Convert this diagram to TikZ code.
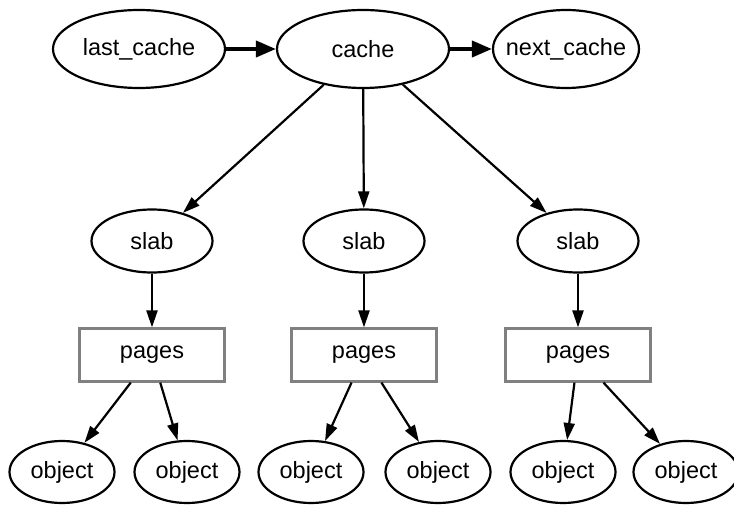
\documentclass[tikz,border=0pt]{standalone}
\usepackage{fontspec}
\setmainfont{Liberation Sans}
\usetikzlibrary{shapes.geometric,arrows.meta}
\tikzset{
  x=1pt,y=-1pt,
  every node/.style={font=\fontsize{23.5}{27}\selectfont, inner sep=0pt},
  ell/.style={draw, ellipse, line width=2.2pt},
  top/.style={ell, minimum width=172pt, minimum height=78pt},
  nextn/.style={ell, minimum width=146pt, minimum height=78pt},
  slabn/.style={ell, minimum width=121pt, minimum height=63pt},
  obj/.style={ell, minimum width=105pt, minimum height=62pt},
  pagebox/.style={draw=black!50, line width=2.2pt, rectangle, minimum width=145pt, minimum height=53pt},
  arr/.style={line width=2.2pt, -{Triangle[length=17pt,width=11pt]}},
  thickarr/.style={line width=4pt, -{Triangle[length=20pt,width=16pt]}}
}
\begin{document}
\begin{tikzpicture}
\useasboundingbox (0,0) rectangle (734,505);
\node[top] (last) at (139,49) {\makebox[0pt]{last\_cache}};
\node[top] (cache) at (363,49) {\makebox[0pt]{cache}};
\node[nextn] (next) at (566,49) {\makebox[0pt]{next\_cache}};
\node[slabn] (s1) at (152,241) {slab};
\node[slabn] (s2) at (364,241) {slab};
\node[slabn] (s3) at (578,241) {slab};
\node[pagebox] (p1) at (152,355) {pages};
\node[pagebox] (p2) at (364,355) {pages};
\node[pagebox] (p3) at (578,355) {pages};
\node[obj] (o1) at (62,472) {object};
\node[obj] (o2) at (187,472) {object};
\node[obj] (o3) at (311,472) {object};
\node[obj] (o4) at (438,472) {object};
\node[obj] (o5) at (563,472) {object};
\node[obj] (o6) at (686,472) {object};
\draw[thickarr] (last) -- (cache);
\draw[thickarr] (cache) -- (next);
\draw[arr] (cache) -- (s1);
\draw[arr] (cache) -- (s2);
\draw[arr] (cache) -- (s3);
\draw[arr] (s1) -- (p1);
\draw[arr] (s2) -- (p2);
\draw[arr] (s3) -- (p3);
\draw[arr] (p1) -- (o1);
\draw[arr] (p1) -- (o2);
\draw[arr] (p2) -- (o3);
\draw[arr] (p2) -- (o4);
\draw[arr] (p3) -- (o5);
\draw[arr] (p3) -- (o6);
\end{tikzpicture}
\end{document}
